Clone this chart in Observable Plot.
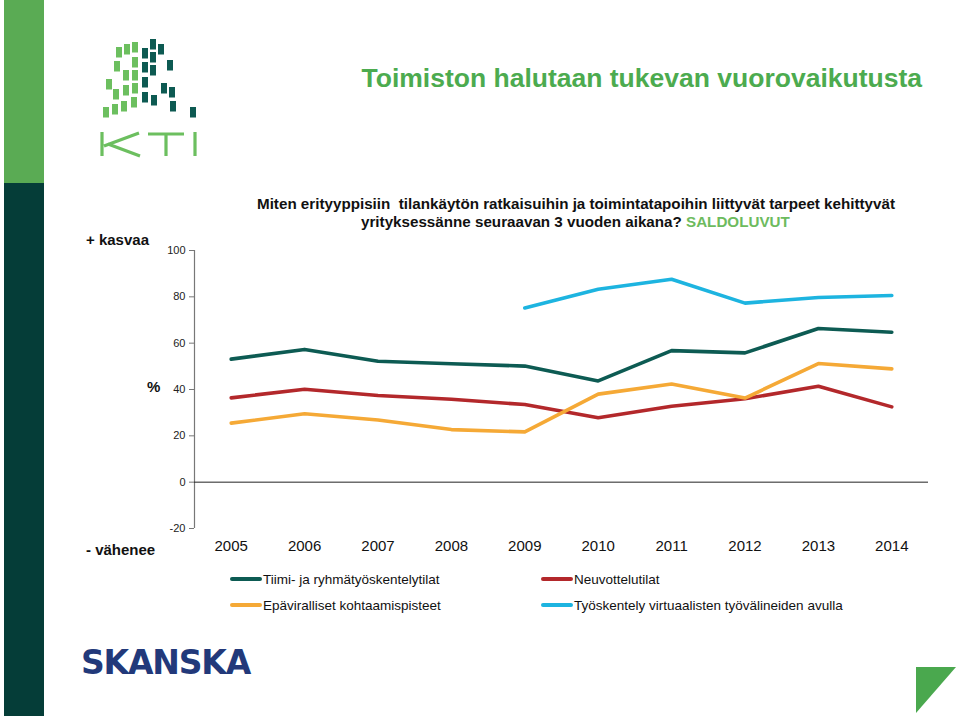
<!DOCTYPE html>
<html>
<head>
<meta charset="utf-8">
<script src="https://cdn.jsdelivr.net/npm/d3@7"></script>
<script src="https://cdn.jsdelivr.net/npm/@observablehq/plot@0.6"></script>
<style>
  html, body { margin: 0; padding: 0; background: #fff; }
  #page { position: relative; width: 960px; height: 716px; overflow: hidden; font-family: "Liberation Sans", Arial, sans-serif; }
  .abs { position: absolute; white-space: nowrap; }
  #chart { position: absolute; left: 0; top: 0; }
  .leg { position: absolute; font-size: 13.5px; color: #111; white-space: nowrap; line-height: 16px; }
  .leg .sw { display: inline-block; width: 32px; height: 4px; border-radius: 2px; vertical-align: middle; margin-right: 1px; position: relative; top: -1px; }
</style>
</head>
<body>
<div id="page">
  <div class="abs" style="left:4px;top:0;width:40px;height:183px;background:#5aab54"></div>
  <div class="abs" style="left:4px;top:183px;width:40px;height:533px;background:#053d38"></div>
  <svg class="abs" style="left:0;top:0" width="960" height="716" id="deco"></svg>
  <div class="abs" id="title" style="right:38px;top:63px;font-size:26.5px;font-weight:bold;color:#4cab4f;">Toimiston halutaan tukevan vuorovaikutusta</div>
  <div class="abs" id="sub1" style="left:257px;top:195px;font-size:15.2px;font-weight:bold;color:#111;">Miten erityyppisiin&nbsp; tilankäytön ratkaisuihin ja toimintatapoihin liittyvät tarpeet kehittyvät</div>
  <div class="abs" id="sub2" style="left:361px;top:213px;font-size:15.2px;font-weight:bold;color:#111;">yrityksessänne seuraavan 3 vuoden aikana? <span style="color:#6dbb5e">SALDOLUVUT</span></div>
  <div class="abs" style="left:86px;top:231px;font-size:15px;font-weight:bold;color:#111;">+ kasvaa</div>
  <div class="abs" style="left:86px;top:541px;font-size:15px;font-weight:bold;color:#111;">- vähenee</div>
  <div class="abs" style="left:147px;top:378px;font-size:15px;font-weight:bold;color:#111;">%</div>
  <div id="chart"></div>
  <div id="legend"></div>
  <div class="abs" style="left:81px;top:643px;font-family:'DejaVu Sans',sans-serif;font-size:33px;font-weight:bold;color:#22397a;letter-spacing:-1.2px;">SKANSKA</div>
</div>
<script>
// ---- data ----
const years = [2005, 2006, 2007, 2008, 2009, 2010, 2011, 2012, 2013, 2014];
const tiimi = [53.1, 57.3, 52.2, 51.1, 50.1, 43.7, 56.8, 55.8, 66.3, 64.7];
const neuvottelu = [36.4, 40.1, 37.4, 35.8, 33.5, 27.8, 32.8, 36.0, 41.4, 32.5];
const epavirall = [25.5, 29.5, 26.8, 22.7, 21.7, 38.0, 42.4, 36.3, 51.2, 48.9];
const virtualYears = [2009, 2010, 2011, 2012, 2013, 2014];
const virtual = [75.2, 83.3, 87.6, 77.3, 79.7, 80.6];
const yTicks = [-20, 0, 20, 40, 60, 80, 100];
const seriesNames = ["Tiimi- ja ryhmätyöskentelytilat", "Neuvottelutilat", "Epäviralliset kohtaamispisteet", "Työskentely virtuaalisten työvälineiden avulla"];
const seriesColors = ["#0d5b53", "#b3282b", "#f5a936", "#1db4e0"];

const rows = [];
years.forEach((y, i) => rows.push({series: seriesNames[0], year: y, value: tiimi[i]}));
years.forEach((y, i) => rows.push({series: seriesNames[1], year: y, value: neuvottelu[i]}));
years.forEach((y, i) => rows.push({series: seriesNames[2], year: y, value: epavirall[i]}));
virtualYears.forEach((y, i) => rows.push({series: seriesNames[3], year: y, value: virtual[i]}));

const chart = Plot.plot({
  width: 960,
  height: 716,
  marginTop: 250,
  marginBottom: 188,
  marginLeft: 194,
  marginRight: 32,
  style: {background: "transparent", fontFamily: "'Liberation Sans', Arial, sans-serif", color: "#222"},
  x: {domain: [2004.5, 2014.5]},
  y: {domain: [-20, 100]},
  color: {domain: seriesNames, range: seriesColors},
  marks: [
    Plot.axisY({ticks: yTicks, tickSize: 5, tickPadding: 4, fontSize: 11, label: null, stroke: "#777", tickFormat: d => String(d)}),
    Plot.axisX({ticks: years, tickSize: 0, tickPadding: 12, fontSize: 15, label: null, tickFormat: d => String(d), fill: "#111"}),
    Plot.ruleX([2004.5], {y1: -20, y2: 100, stroke: "#777", strokeWidth: 1.2}),
    Plot.ruleY([0], {stroke: "#222", strokeWidth: 1}),
    Plot.line(rows, {x: "year", y: "value", z: "series", stroke: "series", strokeWidth: 3.6, strokeLinejoin: "round", strokeLinecap: "round"})
  ]
});
document.getElementById("chart").appendChild(chart);

// ---- legend ----
const legPos = [[230, 572], [541, 572], [230, 598], [541, 598]];
const legend = document.getElementById("legend");
seriesNames.forEach((name, j) => {
  const d = document.createElement("div");
  d.className = "leg";
  d.style.left = legPos[j][0] + "px";
  d.style.top = legPos[j][1] + "px";
  d.innerHTML = `<span class="sw" style="background:${seriesColors[j]}"></span>${name}`;
  legend.appendChild(d);
});

// ---- decorations: KTI logo, triangle ----
const svg = d3.select("#deco");
const light = "#6cbf5f", dark = "#0d5a52";
const sq = [
  [116,47,light],[124,44,light],[132,42,light],
  [114,61,light],[132,57,light],
  [123,70,light],[132,70,light],
  [106,79,light],
  [113,89,light],[123,85,light],[132,83,light],
  [103,107,light],[112,104,light],[121,101,light],[131,97,light],
  [150,39,dark],[158,44,dark],
  [142,48,dark],[150,52,dark],[167,60,dark],
  [142,62,dark],[150,65,dark],
  [142,77,dark],[161,83,dark],[169,87,dark],
  [142,92,dark],[151,95,dark],[170,101,dark],[190,107,dark]
];
svg.selectAll("rect.sq").data(sq).join("rect")
  .attr("x", d => d[0]).attr("y", d => d[1]).attr("width", 6).attr("height", 10.5)
  .attr("fill", d => d[2]);
const k = svg.append("g").attr("stroke", light).attr("stroke-width", 3.2).attr("fill", "none");
k.append("path").attr("d", "M102,132 L102,156 M104,146 L139,133 M108,144 L140,156");
k.append("path").attr("d", "M148,134 L184,134 M166,134 L166,156");
k.append("path").attr("d", "M195,132 L195,156");
svg.append("path").attr("d", "M916,667 L956,667 L916,713 Z").attr("fill", "#4aa84e");
</script>
</body>
</html>
